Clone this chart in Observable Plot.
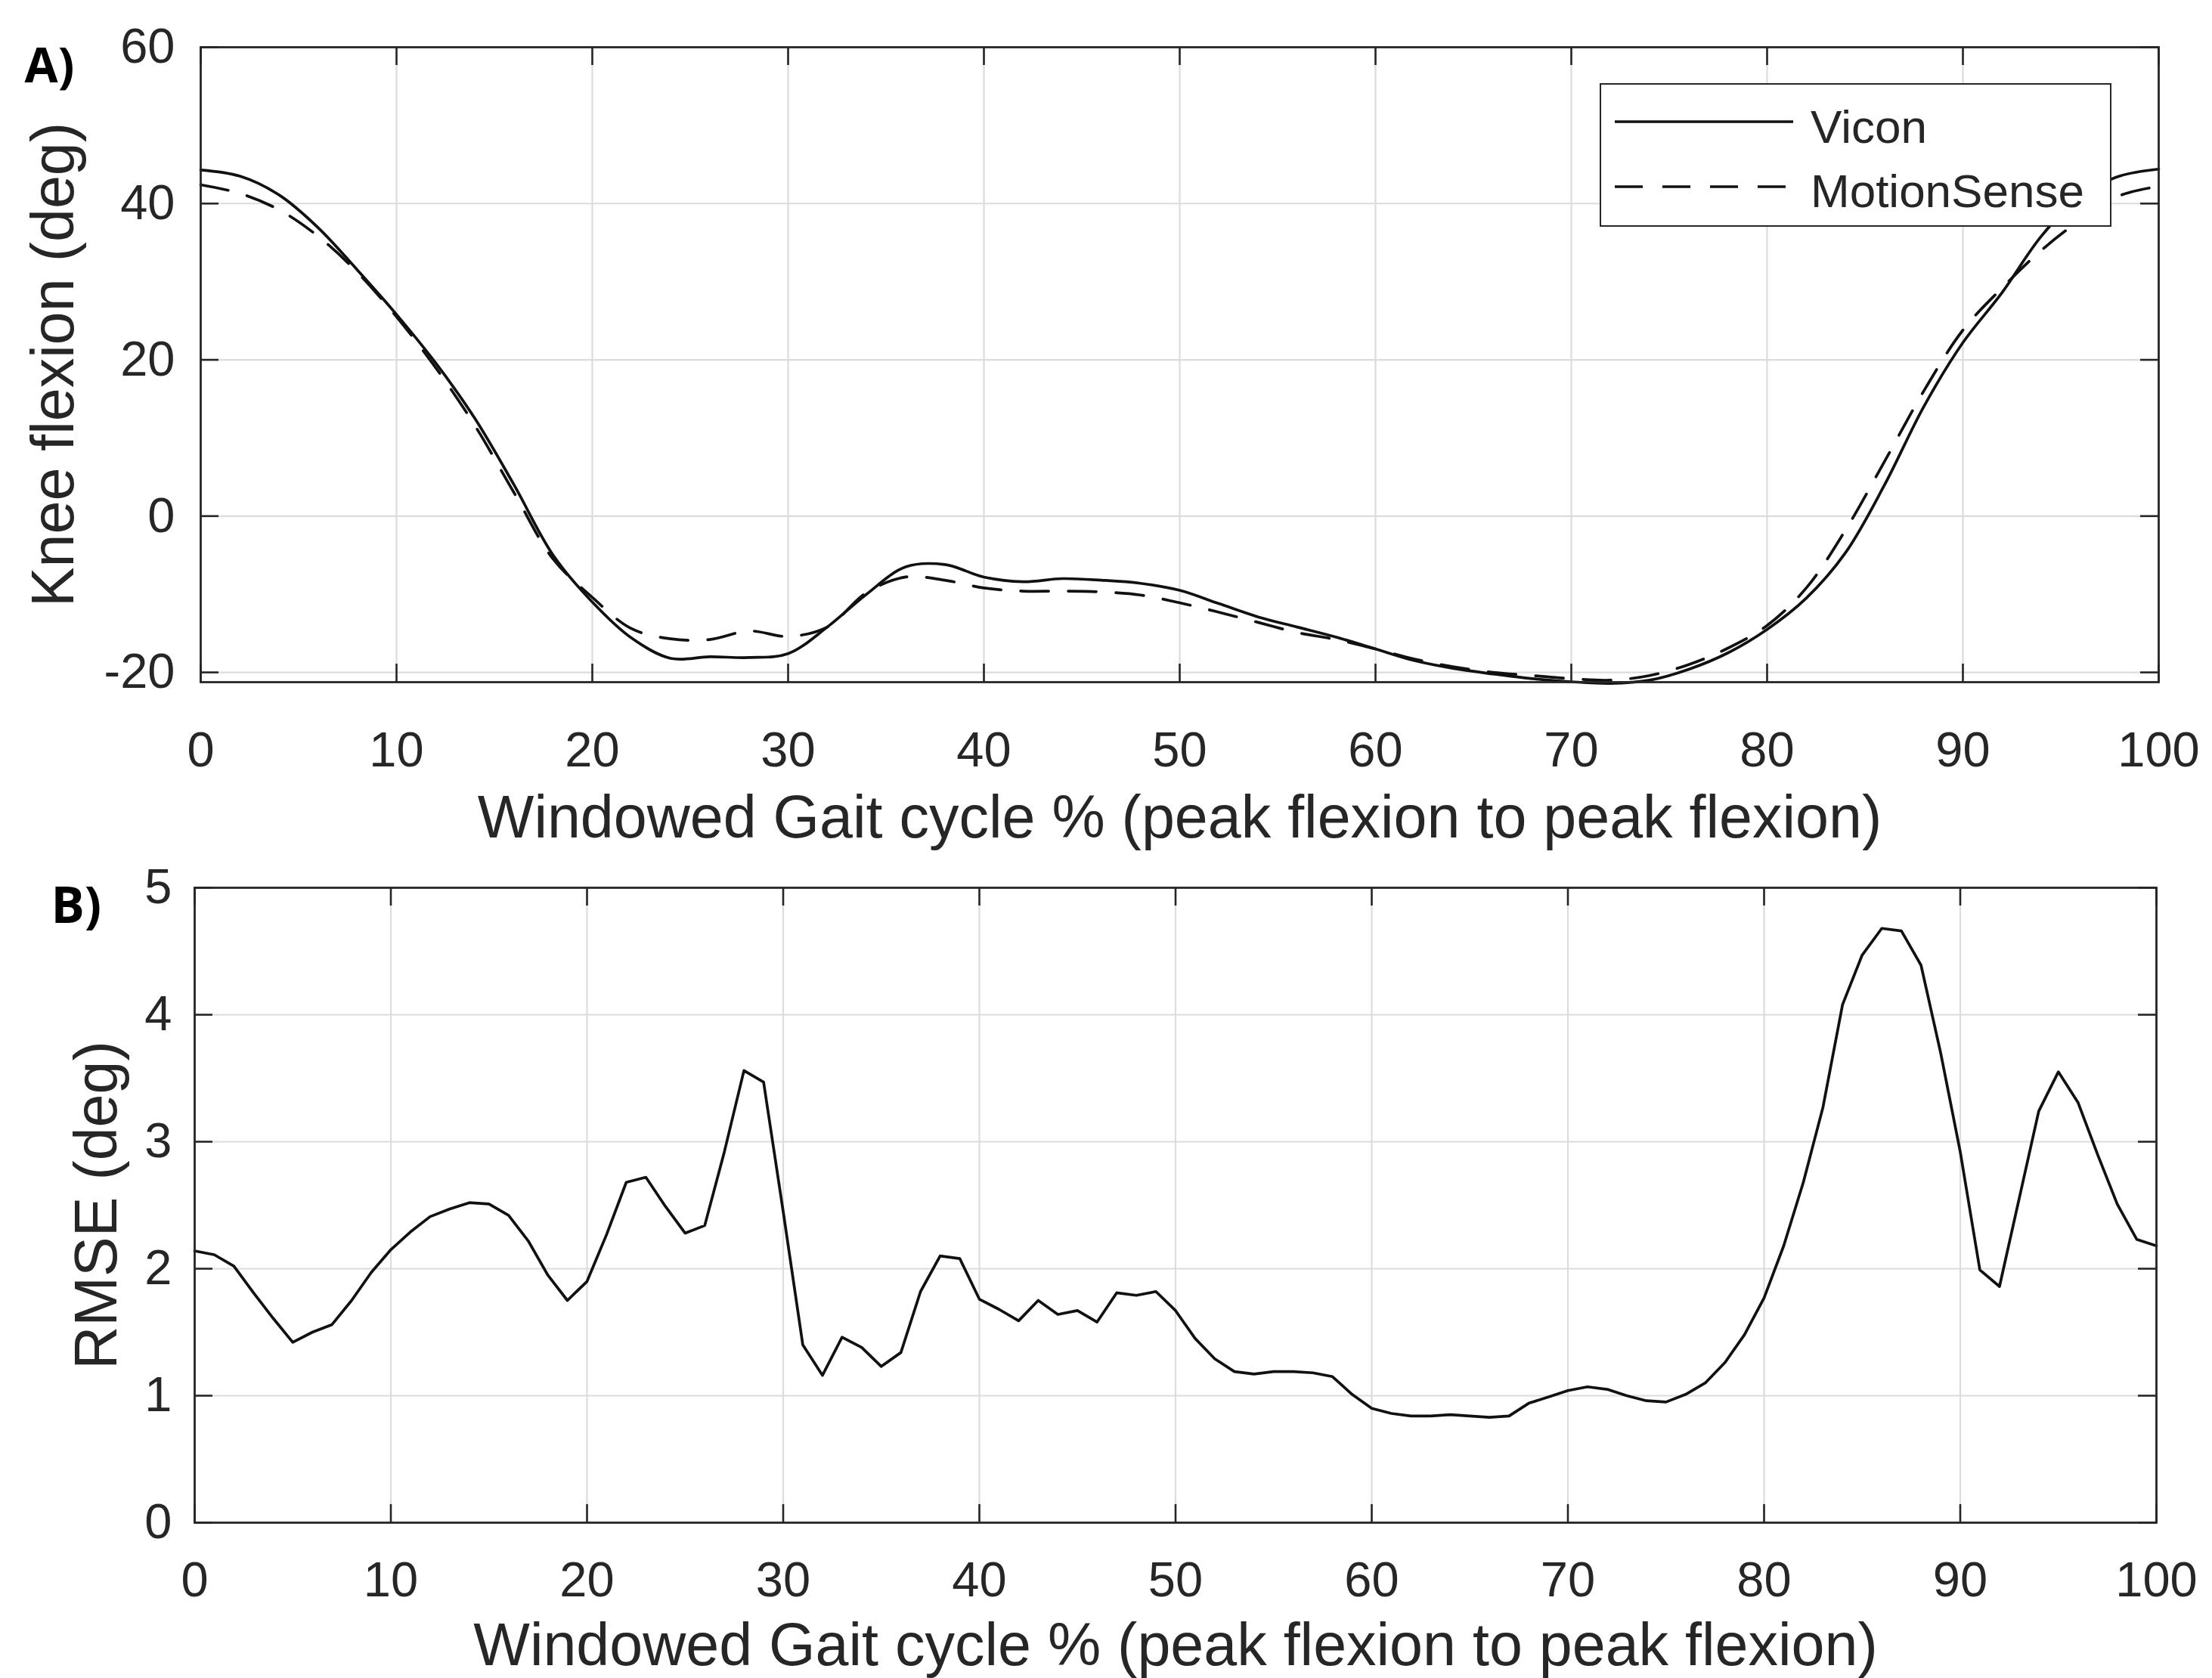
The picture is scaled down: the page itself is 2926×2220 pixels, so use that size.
<!DOCTYPE html>
<html>
<head>
<meta charset="utf-8">
<script src="https://cdn.jsdelivr.net/npm/d3@7"></script>
<script src="https://cdn.jsdelivr.net/npm/@observablehq/plot@0.6"></script>
<style>
  html, body { margin: 0; padding: 0; background: #ffffff; }
  #wrap { position: relative; width: 2926px; height: 2220px; background: #ffffff; overflow: hidden; }
  #panelA, #panelB { position: absolute; left: 0; }
  #panelA { top: 0; }
  #panelB { top: 1130px; }
  #legend { position: absolute; left: 2116px; top: 110px; width: 677px; height: 190px; box-sizing: border-box;
            border: 2.6px solid #262626; background: #ffffff; z-index: 5; }
</style>
</head>
<body>
<div id="wrap">
  <div id="panelA"></div>
  <div id="panelB"></div>
  <div id="legend"></div>
</div>
<script>
// ---------- data ----------
const xTicks = [0, 10, 20, 30, 40, 50, 60, 70, 80, 90, 100];
const yTicksA = [-20, 0, 20, 40, 60];
const yTicksB = [0, 1, 2, 3, 4, 5];

const seriesNames = ["Vicon", "MotionSense"];
const xLabel = "Windowed Gait cycle % (peak flexion to peak flexion)";
const yLabelA = "Knee flexion (deg)";
const yLabelB = "RMSE (deg)";
const panelLabels = ["A)", "B)"];

// Knee flexion (deg), read at these gait-cycle percentages
const kneeX = [0, 2, 4, 6, 8, 10, 12, 14, 16, 18, 20, 22, 24, 26, 28, 30, 32, 34, 36, 38, 40,
               42, 44, 46, 48, 50, 52, 54, 56, 58, 60, 62, 64, 66, 68, 70, 72, 74, 76, 78, 80,
               82, 84, 86, 88, 90, 92, 94, 96, 98, 100];
const vicon = [44.3, 43.5, 41.1, 36.9, 31.5, 25.8, 19.6, 12.5, 4.0, -5.0, -11.0,
               -15.6, -18.2, -18.0, -18.1, -17.6, -14.2, -10.0, -6.5, -6.2, -7.8,
               -8.4, -8.0, -8.2, -8.6, -9.5, -11.2, -12.9, -14.2, -15.5, -17.0,
               -18.5, -19.5, -20.2, -20.8, -21.2, -21.4, -21.0, -19.6, -17.5, -14.5,
               -10.5, -4.7, 4.0, 14.0, 22.2, 28.6, 35.8, 41.0, 43.5, 44.4];
const motionSense = [42.4, 41.3, 39.2, 35.8, 31.2, 25.5, 19.0, 11.6, 3.0, -5.5, -10.4,
               -14.4, -15.7, -15.8, -14.7, -15.4, -14.2, -9.8, -7.8, -8.2, -9.2,
               -9.6, -9.6, -9.7, -10.1, -11.1, -12.3, -13.6, -14.9, -15.8, -17.0,
               -18.3, -19.3, -20.0, -20.4, -20.8, -21.0, -20.4, -19.0, -16.9, -14.0,
               -9.2, -1.8, 7.0, 16.0, 23.8, 29.2, 34.0, 37.9, 41.0, 42.2];

// RMSE (deg) at each 1 % of the cycle (0..100)
const rmseX = d3.range(0, 101);
const rmse = [2.14, 2.11, 2.02, 1.81, 1.61, 1.42, 1.50, 1.56, 1.75, 1.97,
              2.15, 2.29, 2.41, 2.47, 2.52, 2.51, 2.42, 2.22, 1.95, 1.75,
              1.90, 2.27, 2.68, 2.72, 2.49, 2.28, 2.34, 2.92, 3.56, 3.47,
              2.45, 1.40, 1.16, 1.46, 1.38, 1.23, 1.34, 1.82, 2.10, 2.08,
              1.76, 1.68, 1.59, 1.75, 1.64, 1.67, 1.58, 1.81, 1.79, 1.82,
              1.67, 1.45, 1.29, 1.19, 1.17, 1.19, 1.19, 1.18, 1.15, 1.01,
              0.90, 0.86, 0.84, 0.84, 0.85, 0.84, 0.83, 0.84, 0.94, 0.99,
              1.04, 1.07, 1.05, 1.00, 0.96, 0.95, 1.01, 1.10, 1.26, 1.48,
              1.77, 2.18, 2.68, 3.27, 4.08, 4.47, 4.68, 4.66, 4.39, 3.70,
              2.92, 1.99, 1.86, 2.55, 3.24, 3.55, 3.31, 2.90, 2.51, 2.23,
              2.18];

// ---------- tables built from the arrays ----------
const viconRows = kneeX.map((x, i) => ({x, y: vicon[i]}));
const senseRows = kneeX.map((x, i) => ({x, y: motionSense[i]}));
const rmseRows = rmseX.map((x, i) => ({x, y: rmse[i]}));

const INK = "#262626";
const GRID = "#dcdcdc";
const LINE = "#111111";
const FONT = "'Liberation Sans', Arial, Helvetica, sans-serif";
const DASH = "37,26";
const LW = 3.7;
const fmt = d => String(d);

function panel({W, H, mL, mR, mT, mB, yDomain, yTicks, series, xPad, yPad, xLabelDy, yLabelDx, label, labelDx, labelDy, labelSize, yLabel}) {
  const fw = W - mL - mR, fh = H - mT - mB, tk = 24;
  return Plot.plot({
    width: W, height: H,
    marginLeft: mL, marginRight: mR, marginTop: mT, marginBottom: mB,
    x: {domain: [0, 100]},
    y: {domain: yDomain},
    style: {fontFamily: FONT, fontSize: "65px", color: INK, background: "#ffffff", overflow: "visible"},
    marks: [
      Plot.gridX(xTicks, {stroke: GRID, strokeOpacity: 1, strokeWidth: 2.2}),
      Plot.gridY(yTicks, {stroke: GRID, strokeOpacity: 1, strokeWidth: 2.2}),
      ...series,
      Plot.ruleX(xTicks, {insetTop: fh - tk, stroke: INK, strokeWidth: 2.6}),
      Plot.ruleX(xTicks, {insetBottom: fh - tk, stroke: INK, strokeWidth: 2.6}),
      Plot.ruleY(yTicks, {insetRight: fw - tk, stroke: INK, strokeWidth: 2.6}),
      Plot.ruleY(yTicks, {insetLeft: fw - tk, stroke: INK, strokeWidth: 2.6}),
      Plot.frame({stroke: INK, strokeWidth: 2.8}),
      Plot.axisX({ticks: xTicks, tickSize: 0, tickPadding: xPad, tickFormat: fmt, label: null, fill: INK}),
      Plot.axisY({ticks: yTicks, tickSize: 0, tickPadding: yPad, tickFormat: fmt, label: null, fill: INK}),
      Plot.text([xLabel], {text: d => d, frameAnchor: "bottom", dy: xLabelDy, textAnchor: "middle", lineAnchor: "bottom", fontSize: 79, fill: INK}),
      Plot.text([yLabel], {text: d => d, frameAnchor: "left", dx: yLabelDx, rotate: -90, textAnchor: "middle", lineAnchor: "bottom", fontSize: 79, fill: INK}),
      Plot.text([label], {text: d => d, frameAnchor: "top-left", dx: labelDx, dy: labelDy, lineAnchor: "bottom",
                          textAnchor: "start", fontSize: labelSize, fontWeight: "bold", fontFamily: "'Open Sans', 'Noto Sans', sans-serif", fill: "#000000"})
    ]
  });
}

const plotA = panel({
  W: 2926, H: 1130, mL: 265, mR: 71, mT: 62, mB: 228,
  yDomain: [-21.25, 60], yTicks: yTicksA,
  series: [
    Plot.line(viconRows, {x: "x", y: "y", curve: "catmull-rom", stroke: LINE, strokeWidth: LW}),
    Plot.line(senseRows, {x: "x", y: "y", curve: "catmull-rom", stroke: LINE, strokeWidth: LW, strokeDasharray: DASH})
  ],
  xPad: 65, yPad: 34, xLabelDy: 205, yLabelDx: -169,
  label: panelLabels[0], labelDx: -233, labelDy: 46, labelSize: 64, yLabel: yLabelA
});
document.getElementById("panelA").appendChild(plotA);

const plotB = panel({
  W: 2926, H: 1090, mL: 257, mR: 74, mT: 44, mB: 206,
  yDomain: [0, 5], yTicks: yTicksB,
  series: [
    Plot.line(rmseRows, {x: "x", y: "y", stroke: LINE, strokeWidth: LW})
  ],
  xPad: 51, yPad: 30, xLabelDy: 188, yLabelDx: -104,
  label: panelLabels[1], labelDx: -190, labelDy: 46, labelSize: 66, yLabel: yLabelB
});
document.getElementById("panelB").appendChild(plotB);

// ---------- legend (panel A) ----------
const legend = d3.select("#legend").append("svg")
  .attr("width", 672).attr("height", 185)
  .style("font-family", FONT).style("font-size", "62px");
const legendRows = [{name: seriesNames[0], dash: null, y: 49, ty: 77},
                    {name: seriesNames[1], dash: DASH, y: 135, ty: 162}];
for (const r of legendRows) {
  legend.append("line").attr("x1", 18).attr("x2", 254).attr("y1", r.y).attr("y2", r.y)
    .attr("stroke", LINE).attr("stroke-width", LW).attr("stroke-dasharray", r.dash);
  legend.append("text").attr("x", 277).attr("y", r.ty).attr("fill", INK).text(r.name);
}
</script>
</body>
</html>
